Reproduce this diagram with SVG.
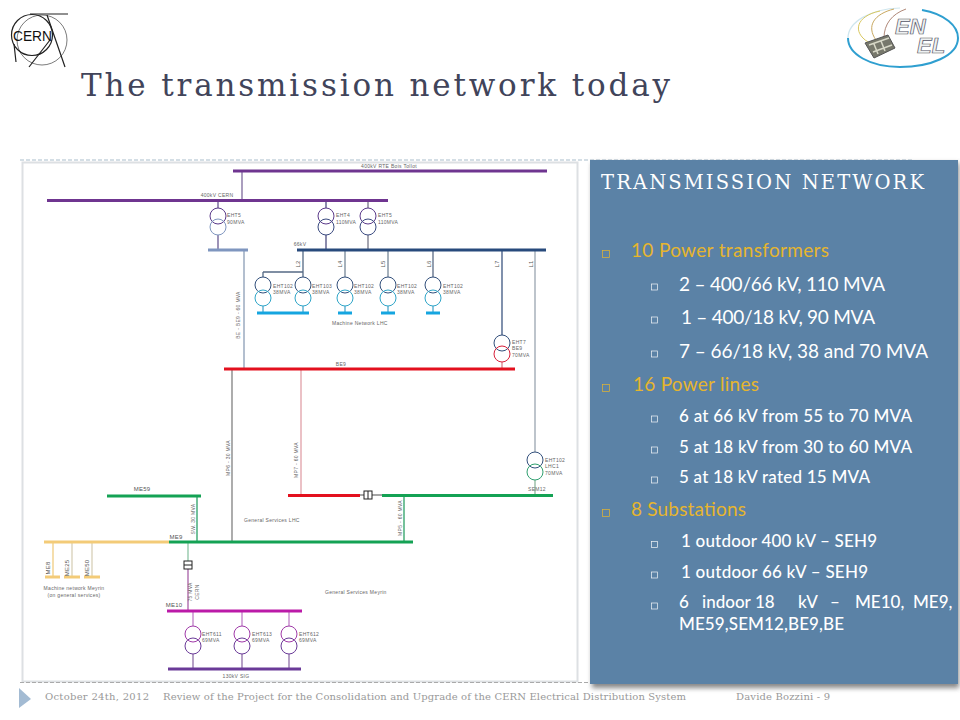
<svg xmlns="http://www.w3.org/2000/svg" width="960" height="720" viewBox="0 0 960 720">
<defs>
<filter id="sh" x="-5%" y="-5%" width="110%" height="110%"><feGaussianBlur stdDeviation="2.5"/></filter>
</defs>
<style>
text{font-family:"Liberation Sans",Arial,sans-serif}
.lb{font-size:5px;fill:#666;letter-spacing:.3px}
.lb6{font-size:6px;fill:#555;letter-spacing:.2px}
.lm{text-anchor:middle}
.bar{stroke-width:3;fill:none;stroke-linecap:butt}
.ln{stroke-width:1.3;fill:none}
.c{fill:none;stroke-width:1}
.pv{font-family:Lato,"Noto Sans",sans-serif}
.g{font-size:19px;fill:#e6b52e}
.w{font-size:19px;fill:#fff}
.w2{font-size:17px;fill:#fff;font-weight:500}
.bw{fill:none;stroke:#f2f5f8;stroke-width:.7}
.bg{fill:none;stroke:#e6b52e;stroke-width:.7}
.ft{font-family:"DejaVu Serif",serif;font-size:10px;fill:#999}
</style>
<rect width="960" height="720" fill="#fff"/>

<g id="cern-logo" fill="none" stroke="#222">
<circle cx="32" cy="35" r="20.500" stroke-width="1.2"/>
<circle cx="42" cy="40" r="25" stroke-width=".6"/>
<path d="M30 14H68" stroke-width="1.2"/>
<path d="M14 44L16 62M47 15L65 67M50 40L29 67" stroke-width="1.2"/>
<text x="13" y="41" textLength="39" lengthAdjust="spacingAndGlyphs" style="font-size:14.500px;fill:#111;stroke:none">CERN</text>
</g>

<g id="enel-logo">
<path d="M922 10C945 14 958 26 958 38C958 56 930 67 900 67C870 67 848 54 848 38" fill="none" stroke="#2f9fd0" stroke-width="2"/>
<path d="M848 38C848 22 870 9 900 8" fill="none" stroke="#cfe6ee" stroke-width="1.2"/>
<path d="M868 42C852 32 856 16 880 11" fill="none" stroke="#d9c860"/>
<path d="M876 40C866 26 874 14 894 9" fill="none" stroke="#c8a860"/>
<path d="M884 38C884 24 892 14 906 9" fill="none" stroke="#b08878"/>
<path d="M865 43L888 35L895 48L874 58Z" fill="#77786c" stroke="#555"/>
<path d="M869 45L889 38M873 52L892 45M874 44L878 54M881 41L885 51" stroke="#d8d8c8" stroke-width="1.5"/>
<text x="895" y="34" style="font-size:22px;font-weight:bold;font-style:italic;fill:#eef1f2;stroke:#556;stroke-width:.7">EN</text>
<text x="917" y="53" style="font-size:22px;font-weight:bold;font-style:italic;fill:#eef1f2;stroke:#556;stroke-width:.7">EL</text>
</g>

<text id="title" x="81" y="96" textLength="589" lengthAdjust="spacing" style="font-family:'DejaVu Serif',serif;font-size:31px;fill:#41445a">The transmission network today</text>

<g id="frame">
<rect x="22.500" y="162.500" width="555" height="519" fill="#fff" stroke="#dde0e3" stroke-width="2"/>
<path d="M20 160H912" stroke="#a9bdcb" stroke-dasharray="4 2" fill="none"/>
<path d="M20 682.500H592" stroke="#aaa" stroke-dasharray="4 2" fill="none"/>
</g>

<g id="connectors">
<path class="ln" stroke="#7d6a9c" d="M242 171V200"/>
<path class="ln" stroke="#6a5a92" d="M218 200V208M218 235V250"/>
<path class="ln" stroke="#8a9db5" d="M244 250V369"/>
<path class="ln" stroke="#4f4f80" d="M326 200V208M326 235V250"/>
<path class="ln" stroke="#778" d="M368 200V208M368 235V250"/>
<path class="ln" stroke="#556a85" d="M303 250V277M263 272H303M263 272V277"/>
<path class="ln" stroke="#778899" d="M345 250V277M388 250V277"/>
<path class="ln" stroke="#5b6b85" d="M433 250V277"/>
<path class="ln" stroke="#4fa8cc" d="M263 306V313M303 306V313M345 306V313M388 306V313M433 306V313"/>
<path class="ln" stroke="#3d5580" d="M502 250V335"/>
<path class="ln" stroke="#d8808a" d="M502 362V369"/>
<path class="ln" stroke="#9aa5b0" stroke-width="1.600" d="M535 250V452"/>
<path class="ln" stroke="#8db59c" d="M535 480V495"/>
<path class="ln" stroke="#808080" stroke-width="1.600" d="M232 369V542"/>
<path class="ln" stroke="#e0a0a8" stroke-width="1.600" d="M301 369V495"/>
<path class="ln" stroke="#2ca066" d="M404 495V542M197 496V542"/>
<path class="ln" stroke="#888" d="M360 495H364M372 495H382"/>
<path class="ln" stroke="#8cc4a4" d="M188 542V561"/>
<path class="ln" stroke="#a860a8" d="M188 569V611"/>
<path class="ln" stroke="#f0cd80" d="M53 542V577"/>
<path class="ln" stroke="#d8d0b8" d="M72 542V577M92 542V577"/>
<path class="ln" stroke="#c080c8" d="M193 611V626M242 611V626M289 611V626"/>
<path class="ln" stroke="#9070a8" d="M193 654V669M242 654V669M289 654V669"/>
</g>

<g id="bus-400-rte"><path class="bar" stroke="#6f3590" d="M233 171H547"/><text class="lb lm" x="389" y="168">400kV RTE Bois Tollot</text></g>
<g id="bus-400-cern"><path class="bar" stroke="#6f3590" d="M47 200.500H388"/><text class="lb lm" x="217" y="197">400kV CERN</text></g>
<g id="bus-be"><path class="bar" stroke="#7f96bf" d="M208 250H248"/></g>
<g id="bus-66"><path class="bar" stroke="#284a7c" d="M297 250H546"/><text class="lb lm" x="300" y="246">66kV</text></g>
<g id="bus-lhc"><path class="bar" stroke="#15a5e0" d="M257 313H309M338 313H352M381 313H395M426 313H440"/><text class="lb" x="332" y="325">Machine Network LHC</text></g>
<g id="bus-be9"><path class="bar" stroke="#e3101e" d="M224 369H515"/><text class="lb lm" x="341" y="366">BE9</text></g>
<g id="bus-sem12"><path class="bar" stroke="#e3101e" d="M288 495.500H360"/><path class="bar" stroke="#14a254" d="M382 495.500H553"/><text class="lb lm" x="537" y="491">SEM12</text></g>
<g id="breaker-sem12"><rect x="364" y="491" width="8" height="8" fill="#fff" stroke="#222"/><path d="M368 491V499" stroke="#222"/></g>
<g id="bus-me59"><path class="bar" stroke="#14a254" d="M107 496H201"/><text class="lb6 lm" x="142" y="491">ME59</text></g>
<g id="bus-me9"><path class="bar" stroke="#f3cb78" d="M44 542H169"/><path class="bar" stroke="#14a254" d="M169 542H413"/><text class="lb6 lm" x="176" y="539">ME9</text></g>
<g id="breaker-me9"><rect x="184" y="561" width="8" height="8" fill="#fff" stroke="#222"/><path d="M184 565H192" stroke="#222"/></g>
<g id="bus-me10"><path class="bar" stroke="#bb1aa8" d="M167 611H302"/><text class="lb6 lm" x="174" y="607">ME10</text></g>
<g id="bus-sig"><path class="bar" stroke="#6a3a98" d="M168 669H301"/><text class="lb lm" x="236" y="678">130kV SIG</text></g>
<g id="bus-meyrin"><path class="bar" stroke="#f3cb78" d="M45 577H60M64 577H80M84 577H100"/><text class="lb lm" x="74" y="590">Machine network Meyrin</text><text class="lb lm" x="74" y="597">(on general services)</text></g>

<g id="eht5"><circle class="c" cx="218" cy="216" r="8" stroke="#5b3a8a"/><circle class="c" cx="218" cy="227" r="8" stroke="#7f96bf"/><text class="lb" x="227" y="217">EHT5</text><text class="lb" x="227" y="224">90MVA</text></g>
<g id="eht4"><circle class="c" cx="326" cy="216" r="8" stroke="#5b3a8a"/><circle class="c" cx="326" cy="227" r="8" stroke="#3a4a80"/><text class="lb" x="336" y="217">EHT4</text><text class="lb" x="336" y="224">110MVA</text></g>
<g id="eht6"><circle class="c" cx="368" cy="216" r="8" stroke="#5b3a8a"/><circle class="c" cx="368" cy="227" r="8" stroke="#3a4a80"/><text class="lb" x="378" y="217">EHT5</text><text class="lb" x="378" y="224">110MVA</text></g>
<g id="eht102a"><circle class="c" cx="263" cy="285" r="8" stroke="#33507c"/><circle class="c" cx="263" cy="298" r="8" stroke="#2fa5c8"/><text class="lb" x="273" y="288">EHT102</text><text class="lb" x="273" y="294">38MVA</text></g>
<g id="eht103"><circle class="c" cx="303" cy="285" r="8" stroke="#33507c"/><circle class="c" cx="303" cy="298" r="8" stroke="#2fa5c8"/><text class="lb" x="312" y="288">EHT103</text><text class="lb" x="312" y="294">38MVA</text></g>
<g id="eht102b"><circle class="c" cx="345" cy="285" r="8" stroke="#33507c"/><circle class="c" cx="345" cy="298" r="8" stroke="#2fa5c8"/><text class="lb" x="354" y="288">EHT102</text><text class="lb" x="354" y="294">38MVA</text></g>
<g id="eht102c"><circle class="c" cx="388" cy="285" r="8" stroke="#33507c"/><circle class="c" cx="388" cy="298" r="8" stroke="#2fa5c8"/><text class="lb" x="397" y="288">EHT102</text><text class="lb" x="397" y="294">38MVA</text></g>
<g id="eht102d"><circle class="c" cx="433" cy="285" r="8" stroke="#33507c"/><circle class="c" cx="433" cy="298" r="8" stroke="#2fa5c8"/><text class="lb" x="443" y="288">EHT102</text><text class="lb" x="443" y="294">38MVA</text></g>
<g id="eht7"><circle class="c" cx="502" cy="343" r="8" stroke="#33507c"/><circle class="c" cx="502" cy="354" r="8" stroke="#d8203a"/><text class="lb" x="512" y="344">EHT7</text><text class="lb" x="512" y="350">BE9</text><text class="lb" x="512" y="357">70MVA</text></g>
<g id="eht102-lhc1"><circle class="c" cx="535" cy="460" r="8" stroke="#33507c"/><circle class="c" cx="535" cy="472" r="8" stroke="#30a070"/><text class="lb" x="545" y="462">EHT102</text><text class="lb" x="545" y="468">LHC1</text><text class="lb" x="545" y="475">70MVA</text></g>
<g id="eht611"><circle class="c" cx="193" cy="634" r="8" stroke="#a03aa8"/><circle class="c" cx="193" cy="646" r="8" stroke="#6a3a98"/><text class="lb" x="202" y="636">EHT611</text><text class="lb" x="202" y="642">69MVA</text></g>
<g id="eht613"><circle class="c" cx="242" cy="634" r="8" stroke="#a03aa8"/><circle class="c" cx="242" cy="646" r="8" stroke="#6a3a98"/><text class="lb" x="252" y="636">EHT613</text><text class="lb" x="252" y="642">69MVA</text></g>
<g id="eht612"><circle class="c" cx="289" cy="634" r="8" stroke="#a03aa8"/><circle class="c" cx="289" cy="646" r="8" stroke="#6a3a98"/><text class="lb" x="299" y="636">EHT612</text><text class="lb" x="299" y="642">69MVA</text></g>

<g id="line-labels">
<text class="lb lm" transform="translate(240,315) rotate(-90)">BE - BE9 - 60 MVA</text>
<text class="lb6 lm" transform="translate(300,264) rotate(-90)">L2</text>
<text class="lb6 lm" transform="translate(342,264) rotate(-90)">L4</text>
<text class="lb6 lm" transform="translate(385,264) rotate(-90)">L5</text>
<text class="lb6 lm" transform="translate(431,264) rotate(-90)">L6</text>
<text class="lb6 lm" transform="translate(499,264) rotate(-90)">L7</text>
<text class="lb6 lm" transform="translate(533,264) rotate(-90)">L1</text>
<text class="lb lm" transform="translate(230,458) rotate(-90)">MP6 - 30 MVA</text>
<text class="lb lm" transform="translate(298,460) rotate(-90)">MP7 - 60 MVA</text>
<text class="lb lm" transform="translate(402,518) rotate(-90)">MP5 - 60 MVA</text>
<text class="lb lm" transform="translate(195,519) rotate(-90)">SW. 30 MVA</text>
<text class="lb lm" transform="translate(192,592) rotate(-90)">75 MVA</text>
<text class="lb lm" transform="translate(199,592) rotate(-90)">CERN</text>
<text class="lb6 lm" transform="translate(50,568) rotate(-90)">ME8</text>
<text class="lb6 lm" transform="translate(69,568) rotate(-90)">ME25</text>
<text class="lb6 lm" transform="translate(89,568) rotate(-90)">ME50</text>
<text class="lb" x="244" y="522">General Services LHC</text>
<text class="lb" x="325" y="594">General Services Meyrin</text>
</g>

<g id="panel">
<rect x="592" y="163" width="367" height="525" fill="#555" opacity=".7" filter="url(#sh)"/>
<rect x="590" y="160" width="368" height="524" fill="#5b82a6"/>
<text x="601" y="189" textLength="323" lengthAdjust="spacing" style="font-family:'DejaVu Serif',serif;font-size:19.500px;fill:#fff">TRANSMISSION NETWORK</text>
<rect class="bg" x="602.500" y="250.500" width="7" height="7"/>
<rect class="bg" x="602.500" y="384.500" width="7" height="7"/>
<rect class="bg" x="602.500" y="509.500" width="7" height="7"/>
<rect class="bw" x="651.500" y="284" width="6" height="6"/>
<rect class="bw" x="651.500" y="317" width="6" height="6"/>
<rect class="bw" x="651.500" y="351" width="6" height="6"/>
<rect class="bw" x="651.500" y="416" width="6" height="6"/>
<rect class="bw" x="651.500" y="447" width="6" height="6"/>
<rect class="bw" x="651.500" y="477" width="6" height="6"/>
<rect class="bw" x="651.500" y="541.500" width="6" height="6"/>
<rect class="bw" x="651.500" y="572" width="6" height="6"/>
<rect class="bw" x="651.500" y="603" width="6" height="6"/>
<text class="pv g" x="631" y="257" textLength="198" lengthAdjust="spacing">10 Power transformers</text>
<text class="pv w" x="679" y="291" textLength="206" lengthAdjust="spacing">2 – 400/66 kV, 110 MVA</text>
<text class="pv w" x="681" y="324" textLength="194" lengthAdjust="spacing">1 – 400/18 kV, 90 MVA</text>
<text class="pv w" x="679" y="358" textLength="249" lengthAdjust="spacing">7 – 66/18 kV, 38 and 70 MVA</text>
<text class="pv g" x="633" y="391" textLength="126" lengthAdjust="spacing">16 Power lines</text>
<text class="pv w2" x="679" y="422" textLength="233" lengthAdjust="spacing">6 at 66 kV from 55 to 70 MVA</text>
<text class="pv w2" x="679" y="453" textLength="233" lengthAdjust="spacing">5 at 18 kV from 30 to 60 MVA</text>
<text class="pv w2" x="679" y="483" textLength="191" lengthAdjust="spacing">5 at 18 kV rated 15 MVA</text>
<text class="pv g" x="631" y="516" textLength="115" lengthAdjust="spacing">8 Substations</text>
<text class="pv w2" x="681" y="547" textLength="196" lengthAdjust="spacing">1 outdoor 400 kV – SEH9</text>
<text class="pv w2" x="681" y="578" textLength="187" lengthAdjust="spacing">1 outdoor 66 kV – SEH9</text>
<text class="pv w2" y="608"><tspan x="679">6</tspan><tspan x="702">indoor</tspan><tspan x="755">18</tspan><tspan x="798">kV</tspan><tspan x="830">–</tspan><tspan x="855">ME10,</tspan><tspan x="913">ME9,</tspan></text>
<text class="pv w2" x="679" y="630" textLength="165" lengthAdjust="spacing">ME59,SEM12,BE9,BE</text>
</g>

<g id="footer">
<path d="M19 688L31 699L19 708Z" fill="#a3bbd3"/>
<text class="ft" x="45" y="700" textLength="104" lengthAdjust="spacing">October 24th, 2012</text>
<text class="ft" x="163" y="700" textLength="523" lengthAdjust="spacing">Review of the Project for the Consolidation and Upgrade of the  CERN Electrical Distribution System</text>
<text class="ft" x="736" y="700" textLength="94" lengthAdjust="spacing">Davide Bozzini - 9</text>
</g>
</svg>
